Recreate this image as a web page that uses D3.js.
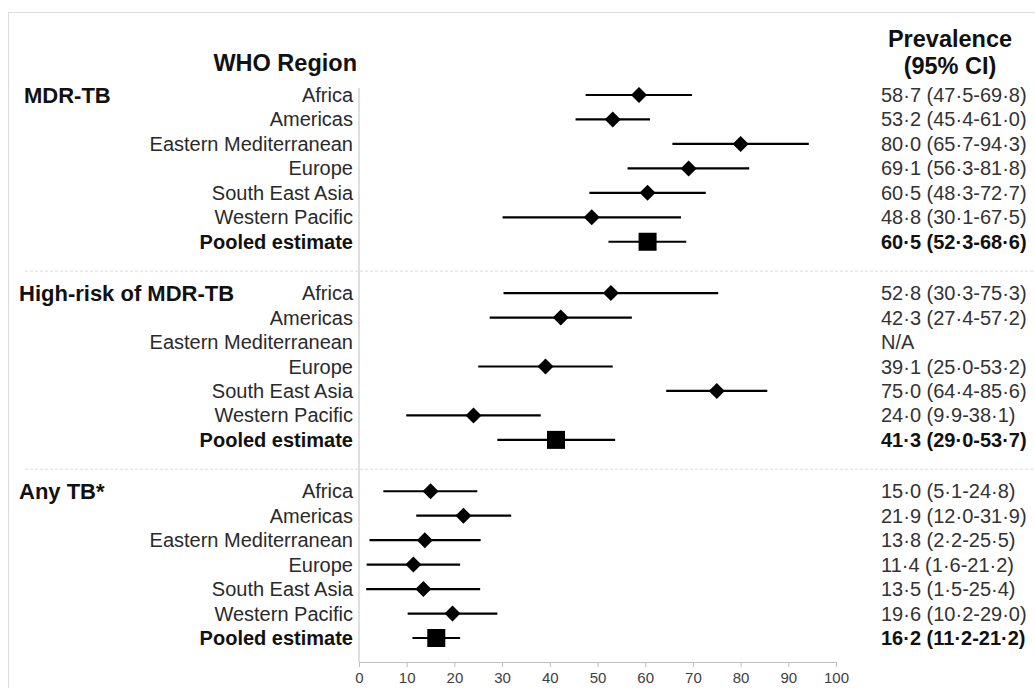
<!DOCTYPE html>
<html>
<head>
<meta charset="utf-8">
<script src="https://cdn.jsdelivr.net/npm/d3@7"></script>
<style>
  html, body { margin: 0; padding: 0; background: #fff; }
  svg { display: block; font-family: "Liberation Sans", Arial, sans-serif; }
</style>
</head>
<body>
<div id="chart"></div>
<script>
// group and row labels
const groups = ["MDR-TB", "High-risk of MDR-TB", "Any TB*"];
const regions = ["Africa", "Americas", "Eastern Mediterranean", "Europe", "South East Asia", "Western Pacific", "Pooled estimate"];

// prevalence (%) and 95% CI, one array per group (null = N/A)
const mdrEst  = [58.7, 53.2, 80.0, 69.1, 60.5, 48.8, 60.5];
const mdrLow  = [47.5, 45.4, 65.7, 56.3, 48.3, 30.1, 52.3];
const mdrHigh = [69.8, 61.0, 94.3, 81.8, 72.7, 67.5, 68.6];

const hrEst  = [52.8, 42.3, null, 39.1, 75.0, 24.0, 41.3];
const hrLow  = [30.3, 27.4, null, 25.0, 64.4,  9.9, 29.0];
const hrHigh = [75.3, 57.2, null, 53.2, 85.6, 38.1, 53.7];

const anyEst  = [15.0, 21.9, 13.8, 11.4, 13.5, 19.6, 16.2];
const anyLow  = [ 5.1, 12.0,  2.2,  1.6,  1.5, 10.2, 11.2];
const anyHigh = [24.8, 31.9, 25.5, 21.2, 25.4, 29.0, 21.2];

const xTicks = [0, 10, 20, 30, 40, 50, 60, 70, 80, 90, 100];

const width = 1035, height = 688;

const series = [
    { est: mdrEst, low: mdrLow, high: mdrHigh },
    { est: hrEst, low: hrLow, high: hrHigh },
    { est: anyEst, low: anyLow, high: anyHigh }
];

// build rows
const groupStep = 8.1;
const rows = [];
series.forEach((s, g) => {
    regions.forEach((r, i) => {
        rows.push({
            group: g,
            region: r,
            pooled: i === regions.length - 1,
            idx: g * groupStep + i,
            est: s.est[i], low: s.low[i], high: s.high[i]
        });
    });
});

const fmt = v => d3.format(".1f")(v).replace(".", "\u00B7");

const svg = d3.select("#chart").append("svg")
    .attr("width", width)
    .attr("height", height);

// light frame
svg.append("rect")
    .attr("x", 8.5).attr("y", 12.5)
    .attr("width", 1100).attr("height", 800)
    .attr("fill", "none")
    .attr("stroke", "#dcdcdc");

const x = d3.scaleLinear().domain([0, 100]).range([359, 836]);
const y = d3.scaleLinear().domain([0, 2 * groupStep + 6]).range([95, 638]);

const axisY = 662;

// dashed separators between groups
[1, 2].forEach(g => {
    svg.append("line")
        .attr("x1", 25).attr("x2", 1035)
        .attr("y1", y(g * groupStep - 0.9)).attr("y2", y(g * groupStep - 0.9))
        .attr("stroke", "#dadada")
        .attr("stroke-width", 1)
        .attr("stroke-dasharray", "3,2");
});

// vertical axis line
svg.append("line")
    .attr("x1", x(0)).attr("x2", x(0))
    .attr("y1", 88).attr("y2", axisY)
    .attr("stroke", "#bfbfbf");

// x axis
const xAxis = svg.append("g")
    .attr("transform", `translate(0,${axisY})`)
    .call(d3.axisBottom(x).tickValues(xTicks).tickSize(5).tickSizeOuter(0));
xAxis.attr("font-size", null).attr("font-family", null);
xAxis.select(".domain").attr("stroke", "#bfbfbf");
xAxis.selectAll(".tick line").attr("stroke", "#bfbfbf");
xAxis.selectAll(".tick text")
    .style("font-size", "15px")
    .attr("fill", "#404040")
    .attr("y", 21)
    .attr("dy", null);

// headers
svg.append("text")
    .attr("x", 357).attr("y", 71)
    .attr("text-anchor", "end")
    .attr("font-size", "23.5px")
    .attr("font-weight", "bold")
    .attr("fill", "#111")
    .text("WHO Region");

svg.append("text")
    .attr("x", 950).attr("y", 47)
    .attr("text-anchor", "middle")
    .attr("font-size", "23.5px")
    .attr("font-weight", "bold")
    .attr("fill", "#111")
    .text("Prevalence");

svg.append("text")
    .attr("x", 950).attr("y", 74)
    .attr("text-anchor", "middle")
    .attr("font-size", "23.5px")
    .attr("font-weight", "bold")
    .attr("fill", "#111")
    .text("(95% CI)");

// group labels
groups.forEach((g, i) => {
    svg.append("text")
        .attr("x", i === 0 ? 24 : 19)
        .attr("y", y(i * groupStep) + 8)
        .attr("font-size", "22px")
        .attr("font-weight", "bold")
        .attr("fill", "#111")
        .text(g);
});

// region labels
svg.selectAll(".region")
    .data(rows)
    .enter()
    .append("text")
    .attr("class", "region")
    .attr("x", 353)
    .attr("y", d => y(d.idx) + 7)
    .attr("text-anchor", "end")
    .attr("font-size", "20px")
    .attr("font-weight", d => d.pooled ? "bold" : "normal")
    .attr("fill", d => d.pooled ? "#111" : "#2a2a2a")
    .text(d => d.region);

// value labels
svg.selectAll(".value")
    .data(rows)
    .enter()
    .append("text")
    .attr("class", "value")
    .attr("x", 881)
    .attr("y", d => y(d.idx) + 7)
    .attr("font-size", "20px")
    .attr("font-weight", d => d.pooled ? "bold" : "normal")
    .attr("fill", d => d.pooled ? "#111" : "#333")
    .text(d => d.est == null ? "N/A" : `${fmt(d.est)} (${fmt(d.low)}-${fmt(d.high)})`);

const plotted = rows.filter(d => d.est != null);

// CI lines
svg.selectAll(".ci")
    .data(plotted)
    .enter()
    .append("line")
    .attr("class", "ci")
    .attr("x1", d => x(d.low))
    .attr("x2", d => x(d.high))
    .attr("y1", d => y(d.idx))
    .attr("y2", d => y(d.idx))
    .attr("stroke", "#000")
    .attr("stroke-width", 2.2);

// diamonds for regions
svg.selectAll(".diamond")
    .data(plotted.filter(d => !d.pooled))
    .enter()
    .append("path")
    .attr("class", "diamond")
    .attr("d", "M0,-8L8,0L0,8L-8,0Z")
    .attr("transform", d => `translate(${x(d.est)},${y(d.idx)})`)
    .attr("fill", "#000");

// squares for pooled estimates
const sq = 18;
svg.selectAll(".square")
    .data(plotted.filter(d => d.pooled))
    .enter()
    .append("rect")
    .attr("class", "square")
    .attr("x", d => x(d.est) - sq / 2)
    .attr("y", d => y(d.idx) - sq / 2)
    .attr("width", sq)
    .attr("height", sq)
    .attr("fill", "#000");
</script>
</body>
</html>
